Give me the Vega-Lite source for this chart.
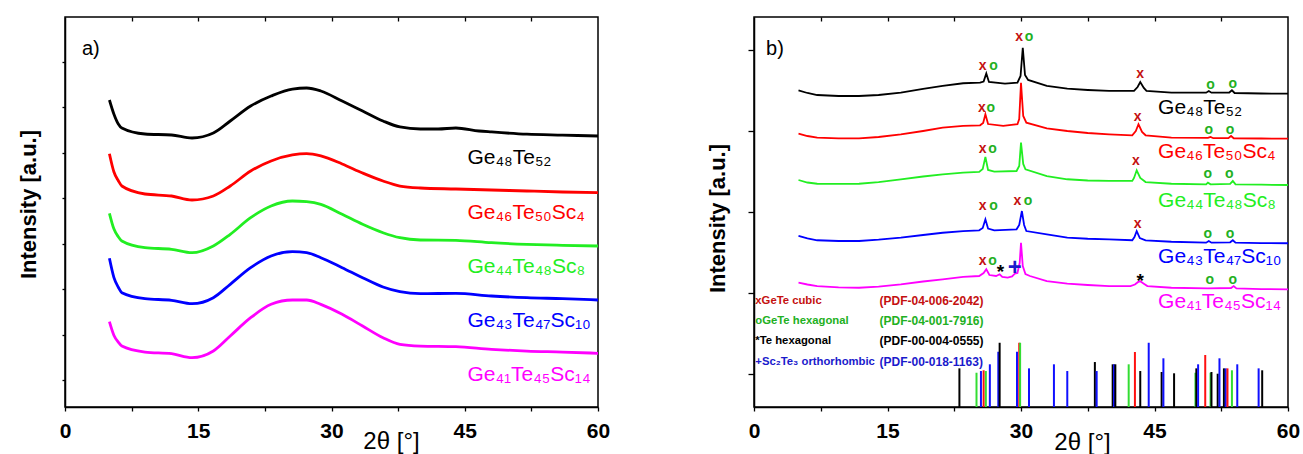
{
"$schema":"https://vega.github.io/schema/vega-lite/v6.json",
"background":"white",
"padding":{"left":16,"top":15,"right":5,"bottom":2},
"spacing":94,
"config":{"font":"Liberation Sans","view":{"stroke":"#000","strokeWidth":1.5},
"axis":{"grid":false,"domainColor":"#000","domainWidth":1.5,"tickColor":"#000","tickWidth":1.3,"labelFont":"Liberation Sans","labelFontSize":21,"labelFontWeight":"bold","labelColor":"#000","titleFont":"Liberation Sans","titleColor":"#000"},
"text":{"font":"Liberation Sans"}},
"datasets":{
"a":[
{"s":"Ge48Te52","t":5,"y":6.163},{"s":"Ge48Te52","t":5.5,"y":5.855},{"s":"Ge48Te52","t":6,"y":5.635},{"s":"Ge48Te52","t":6.4,"y":5.547},{"s":"Ge48Te52","t":9,"y":5.415},{"s":"Ge48Te52","t":12,"y":5.393},{"s":"Ge48Te52","t":14.3,"y":5.327},{"s":"Ge48Te52","t":16.7,"y":5.437},{"s":"Ge48Te52","t":18.6,"y":5.701},{"s":"Ge48Te52","t":20.9,"y":6.031},{"s":"Ge48Te52","t":23.2,"y":6.251},{"s":"Ge48Te52","t":25.6,"y":6.405},{"s":"Ge48Te52","t":27.2,"y":6.427},{"s":"Ge48Te52","t":28.8,"y":6.361},{"s":"Ge48Te52","t":31.2,"y":6.141},{"s":"Ge48Te52","t":33.5,"y":5.921},{"s":"Ge48Te52","t":35.8,"y":5.701},{"s":"Ge48Te52","t":37.7,"y":5.569},{"s":"Ge48Te52","t":40,"y":5.525},{"s":"Ge48Te52","t":42,"y":5.525},{"s":"Ge48Te52","t":44,"y":5.547},{"s":"Ge48Te52","t":46.6,"y":5.481},{"s":"Ge48Te52","t":48,"y":5.46},{"s":"Ge48Te52","t":52,"y":5.41},{"s":"Ge48Te52","t":56,"y":5.39},{"s":"Ge48Te52","t":60,"y":5.371},
{"s":"Ge46Te50Sc4","t":5,"y":4.981},{"s":"Ge46Te50Sc4","t":5.5,"y":4.585},{"s":"Ge46Te50Sc4","t":6,"y":4.387},{"s":"Ge46Te50Sc4","t":6.4,"y":4.27},{"s":"Ge46Te50Sc4","t":9,"y":4.094},{"s":"Ge46Te50Sc4","t":12,"y":4.05},{"s":"Ge46Te50Sc4","t":14.3,"y":3.962},{"s":"Ge46Te50Sc4","t":16.7,"y":4.05},{"s":"Ge46Te50Sc4","t":18.6,"y":4.27},{"s":"Ge46Te50Sc4","t":20.9,"y":4.6},{"s":"Ge46Te50Sc4","t":23.2,"y":4.821},{"s":"Ge46Te50Sc4","t":25.6,"y":4.953},{"s":"Ge46Te50Sc4","t":27.2,"y":4.981},{"s":"Ge46Te50Sc4","t":28.8,"y":4.931},{"s":"Ge46Te50Sc4","t":31.2,"y":4.755},{"s":"Ge46Te50Sc4","t":33.5,"y":4.556},{"s":"Ge46Te50Sc4","t":35.8,"y":4.38},{"s":"Ge46Te50Sc4","t":37.7,"y":4.27},{"s":"Ge46Te50Sc4","t":40,"y":4.226},{"s":"Ge46Te50Sc4","t":44,"y":4.204},{"s":"Ge46Te50Sc4","t":48,"y":4.182},{"s":"Ge46Te50Sc4","t":52,"y":4.16},{"s":"Ge46Te50Sc4","t":56,"y":4.138},{"s":"Ge46Te50Sc4","t":60,"y":4.123},
{"s":"Ge44Te48Sc8","t":5,"y":3.669},{"s":"Ge44Te48Sc8","t":5.5,"y":3.328},{"s":"Ge44Te48Sc8","t":6,"y":3.152},{"s":"Ge44Te48Sc8","t":6.4,"y":3.06},{"s":"Ge44Te48Sc8","t":9,"y":2.912},{"s":"Ge44Te48Sc8","t":12,"y":2.877},{"s":"Ge44Te48Sc8","t":14.3,"y":2.802},{"s":"Ge44Te48Sc8","t":16.7,"y":2.95},{"s":"Ge44Te48Sc8","t":18.6,"y":3.207},{"s":"Ge44Te48Sc8","t":20.9,"y":3.573},{"s":"Ge44Te48Sc8","t":23.2,"y":3.83},{"s":"Ge44Te48Sc8","t":25.6,"y":3.94},{"s":"Ge44Te48Sc8","t":27.2,"y":3.925},{"s":"Ge44Te48Sc8","t":28.8,"y":3.867},{"s":"Ge44Te48Sc8","t":31.2,"y":3.647},{"s":"Ge44Te48Sc8","t":33.5,"y":3.427},{"s":"Ge44Te48Sc8","t":35.8,"y":3.242},{"s":"Ge44Te48Sc8","t":37.7,"y":3.132},{"s":"Ge44Te48Sc8","t":40,"y":3.082},{"s":"Ge44Te48Sc8","t":44,"y":3.075},{"s":"Ge44Te48Sc8","t":48,"y":3.022},{"s":"Ge44Te48Sc8","t":52,"y":2.987},{"s":"Ge44Te48Sc8","t":56,"y":2.965},{"s":"Ge44Te48Sc8","t":60,"y":2.95},
{"s":"Ge43Te47Sc10","t":5,"y":2.679},{"s":"Ge43Te47Sc10","t":5.5,"y":2.261},{"s":"Ge43Te47Sc10","t":6,"y":2.041},{"s":"Ge43Te47Sc10","t":6.4,"y":1.922},{"s":"Ge43Te47Sc10","t":9,"y":1.79},{"s":"Ge43Te47Sc10","t":12,"y":1.754},{"s":"Ge43Te47Sc10","t":14.3,"y":1.68},{"s":"Ge43Te47Sc10","t":16.7,"y":1.812},{"s":"Ge43Te47Sc10","t":18.6,"y":2.107},{"s":"Ge43Te47Sc10","t":20.9,"y":2.472},{"s":"Ge43Te47Sc10","t":23.2,"y":2.729},{"s":"Ge43Te47Sc10","t":25.6,"y":2.824},{"s":"Ge43Te47Sc10","t":27.2,"y":2.802},{"s":"Ge43Te47Sc10","t":28.8,"y":2.692},{"s":"Ge43Te47Sc10","t":31.2,"y":2.472},{"s":"Ge43Te47Sc10","t":33.5,"y":2.252},{"s":"Ge43Te47Sc10","t":35.8,"y":2.047},{"s":"Ge43Te47Sc10","t":37.7,"y":1.944},{"s":"Ge43Te47Sc10","t":40,"y":1.9},{"s":"Ge43Te47Sc10","t":44,"y":1.908},{"s":"Ge43Te47Sc10","t":48,"y":1.849},{"s":"Ge43Te47Sc10","t":52,"y":1.812},{"s":"Ge43Te47Sc10","t":56,"y":1.79},{"s":"Ge43Te47Sc10","t":60,"y":1.761},
{"s":"Ge41Te45Sc14","t":5,"y":1.283},{"s":"Ge41Te45Sc14","t":5.5,"y":0.986},{"s":"Ge41Te45Sc14","t":6,"y":0.832},{"s":"Ge41Te45Sc14","t":6.4,"y":0.748},{"s":"Ge41Te45Sc14","t":9,"y":0.616},{"s":"Ge41Te45Sc14","t":12,"y":0.579},{"s":"Ge41Te45Sc14","t":14.3,"y":0.491},{"s":"Ge41Te45Sc14","t":16.7,"y":0.638},{"s":"Ge41Te45Sc14","t":18.6,"y":0.969},{"s":"Ge41Te45Sc14","t":20.9,"y":1.371},{"s":"Ge41Te45Sc14","t":23.2,"y":1.666},{"s":"Ge41Te45Sc14","t":25.6,"y":1.761},{"s":"Ge41Te45Sc14","t":27.2,"y":1.761},{"s":"Ge41Te45Sc14","t":28.8,"y":1.666},{"s":"Ge41Te45Sc14","t":31.2,"y":1.446},{"s":"Ge41Te45Sc14","t":33.5,"y":1.189},{"s":"Ge41Te45Sc14","t":35.8,"y":0.931},{"s":"Ge41Te45Sc14","t":37.7,"y":0.786},{"s":"Ge41Te45Sc14","t":40,"y":0.748},{"s":"Ge41Te45Sc14","t":44,"y":0.733},{"s":"Ge41Te45Sc14","t":48,"y":0.676},{"s":"Ge41Te45Sc14","t":52,"y":0.638},{"s":"Ge41Te45Sc14","t":56,"y":0.616},{"s":"Ge41Te45Sc14","t":60,"y":0.588}
],
"alab":[
{"s":"Ge48Te52","lab":"Ge₄₈Te₅₂","t":45.3,"y":4.755},
{"s":"Ge46Te50Sc4","lab":"Ge₄₆Te₅₀Sc₄","t":45.3,"y":3.544},
{"s":"Ge44Te48Sc8","lab":"Ge₄₄Te₄₈Sc₈","t":45.3,"y":2.355},
{"s":"Ge43Te47Sc10","lab":"Ge₄₃Te₄₇Sc₁₀","t":45.3,"y":1.167},
{"s":"Ge41Te45Sc14","lab":"Ge₄₁Te₄₅Sc₁₄","t":45.3,"y":-0.022}
],
"b":[
{"s":"Ge48Te52","t":5,"y":3.502},{"s":"Ge48Te52","t":6,"y":3.469},{"s":"Ge48Te52","t":7.1,"y":3.444},{"s":"Ge48Te52","t":9.5,"y":3.432},{"s":"Ge48Te52","t":11.8,"y":3.432},{"s":"Ge48Te52","t":14,"y":3.444},{"s":"Ge48Te52","t":16.5,"y":3.473},{"s":"Ge48Te52","t":19,"y":3.519},{"s":"Ge48Te52","t":21.2,"y":3.556},{"s":"Ge48Te52","t":23.5,"y":3.589},{"s":"Ge48Te52","t":25.4,"y":3.596},{"s":"Ge48Te52","t":25.8,"y":3.611},{"s":"Ge48Te52","t":26.1,"y":3.711},{"s":"Ge48Te52","t":26.4,"y":3.605},{"s":"Ge48Te52","t":28.2,"y":3.584},{"s":"Ge48Te52","t":29.6,"y":3.596},{"s":"Ge48Te52","t":29.95,"y":3.679},{"s":"Ge48Te52","t":30.2,"y":4.028},{"s":"Ge48Te52","t":30.45,"y":3.691},{"s":"Ge48Te52","t":30.8,"y":3.63},{"s":"Ge48Te52","t":32.9,"y":3.556},{"s":"Ge48Te52","t":35.2,"y":3.522},{"s":"Ge48Te52","t":37.5,"y":3.506},{"s":"Ge48Te52","t":39.9,"y":3.494},{"s":"Ge48Te52","t":42.7,"y":3.494},{"s":"Ge48Te52","t":43.1,"y":3.543},{"s":"Ge48Te52","t":43.4,"y":3.605},{"s":"Ge48Te52","t":43.8,"y":3.531},{"s":"Ge48Te52","t":44.1,"y":3.494},{"s":"Ge48Te52","t":46.9,"y":3.473},{"s":"Ge48Te52","t":50.8,"y":3.473},{"s":"Ge48Te52","t":51.1,"y":3.494},{"s":"Ge48Te52","t":51.4,"y":3.473},{"s":"Ge48Te52","t":53.4,"y":3.475},{"s":"Ge48Te52","t":53.7,"y":3.502},{"s":"Ge48Te52","t":54,"y":3.469},{"s":"Ge48Te52","t":57,"y":3.463},{"s":"Ge48Te52","t":60,"y":3.46},
{"s":"Ge46Te50Sc4","t":5,"y":2.967},{"s":"Ge46Te50Sc4","t":6,"y":2.938},{"s":"Ge46Te50Sc4","t":7.1,"y":2.917},{"s":"Ge46Te50Sc4","t":9.5,"y":2.91},{"s":"Ge46Te50Sc4","t":11.8,"y":2.91},{"s":"Ge46Te50Sc4","t":14,"y":2.926},{"s":"Ge46Te50Sc4","t":16.5,"y":2.959},{"s":"Ge46Te50Sc4","t":19,"y":3.0},{"s":"Ge46Te50Sc4","t":21.2,"y":3.041},{"s":"Ge46Te50Sc4","t":23.5,"y":3.062},{"s":"Ge46Te50Sc4","t":25.4,"y":3.07},{"s":"Ge46Te50Sc4","t":25.75,"y":3.099},{"s":"Ge46Te50Sc4","t":26,"y":3.206},{"s":"Ge46Te50Sc4","t":26.3,"y":3.086},{"s":"Ge46Te50Sc4","t":28,"y":3.062},{"s":"Ge46Te50Sc4","t":29.6,"y":3.083},{"s":"Ge46Te50Sc4","t":29.8,"y":3.148},{"s":"Ge46Te50Sc4","t":30,"y":3.596},{"s":"Ge46Te50Sc4","t":30.25,"y":3.185},{"s":"Ge46Te50Sc4","t":30.6,"y":3.102},{"s":"Ge46Te50Sc4","t":32.9,"y":3.033},{"s":"Ge46Te50Sc4","t":35.2,"y":3.0},{"s":"Ge46Te50Sc4","t":37.5,"y":2.975},{"s":"Ge46Te50Sc4","t":39.9,"y":2.959},{"s":"Ge46Te50Sc4","t":42.5,"y":2.947},{"s":"Ge46Te50Sc4","t":42.9,"y":3.0},{"s":"Ge46Te50Sc4","t":43.2,"y":3.083},{"s":"Ge46Te50Sc4","t":43.6,"y":2.988},{"s":"Ge46Te50Sc4","t":44,"y":2.947},{"s":"Ge46Te50Sc4","t":46.9,"y":2.917},{"s":"Ge46Te50Sc4","t":51,"y":2.914},{"s":"Ge46Te50Sc4","t":51.3,"y":2.926},{"s":"Ge46Te50Sc4","t":51.6,"y":2.911},{"s":"Ge46Te50Sc4","t":53.3,"y":2.911},{"s":"Ge46Te50Sc4","t":53.6,"y":2.938},{"s":"Ge46Te50Sc4","t":53.9,"y":2.91},{"s":"Ge46Te50Sc4","t":57,"y":2.907},{"s":"Ge46Te50Sc4","t":60,"y":2.905},
{"s":"Ge44Te48Sc8","t":5,"y":2.395},{"s":"Ge44Te48Sc8","t":6,"y":2.364},{"s":"Ge44Te48Sc8","t":7.1,"y":2.349},{"s":"Ge44Te48Sc8","t":9.5,"y":2.346},{"s":"Ge44Te48Sc8","t":11.8,"y":2.349},{"s":"Ge44Te48Sc8","t":14,"y":2.37},{"s":"Ge44Te48Sc8","t":16.5,"y":2.404},{"s":"Ge44Te48Sc8","t":19,"y":2.438},{"s":"Ge44Te48Sc8","t":21.2,"y":2.465},{"s":"Ge44Te48Sc8","t":23.5,"y":2.485},{"s":"Ge44Te48Sc8","t":25.3,"y":2.494},{"s":"Ge44Te48Sc8","t":25.7,"y":2.531},{"s":"Ge44Te48Sc8","t":26,"y":2.679},{"s":"Ge44Te48Sc8","t":26.3,"y":2.519},{"s":"Ge44Te48Sc8","t":27,"y":2.498},{"s":"Ge44Te48Sc8","t":29.5,"y":2.506},{"s":"Ge44Te48Sc8","t":29.8,"y":2.568},{"s":"Ge44Te48Sc8","t":30,"y":2.856},{"s":"Ge44Te48Sc8","t":30.25,"y":2.593},{"s":"Ge44Te48Sc8","t":30.5,"y":2.527},{"s":"Ge44Te48Sc8","t":32.9,"y":2.444},{"s":"Ge44Te48Sc8","t":35.2,"y":2.404},{"s":"Ge44Te48Sc8","t":37.5,"y":2.389},{"s":"Ge44Te48Sc8","t":39.9,"y":2.383},{"s":"Ge44Te48Sc8","t":42.5,"y":2.383},{"s":"Ge44Te48Sc8","t":42.7,"y":2.42},{"s":"Ge44Te48Sc8","t":43,"y":2.515},{"s":"Ge44Te48Sc8","t":43.4,"y":2.42},{"s":"Ge44Te48Sc8","t":44,"y":2.37},{"s":"Ge44Te48Sc8","t":46.9,"y":2.349},{"s":"Ge44Te48Sc8","t":50.8,"y":2.341},{"s":"Ge44Te48Sc8","t":51,"y":2.362},{"s":"Ge44Te48Sc8","t":51.3,"y":2.341},{"s":"Ge44Te48Sc8","t":53.5,"y":2.346},{"s":"Ge44Te48Sc8","t":53.8,"y":2.383},{"s":"Ge44Te48Sc8","t":54.1,"y":2.341},{"s":"Ge44Te48Sc8","t":57,"y":2.337},{"s":"Ge44Te48Sc8","t":60,"y":2.333},
{"s":"Ge43Te47Sc10","t":5,"y":1.704},{"s":"Ge43Te47Sc10","t":6,"y":1.673},{"s":"Ge43Te47Sc10","t":7.1,"y":1.651},{"s":"Ge43Te47Sc10","t":9.5,"y":1.642},{"s":"Ge43Te47Sc10","t":11.8,"y":1.642},{"s":"Ge43Te47Sc10","t":14,"y":1.658},{"s":"Ge43Te47Sc10","t":16.5,"y":1.683},{"s":"Ge43Te47Sc10","t":19,"y":1.716},{"s":"Ge43Te47Sc10","t":21.2,"y":1.744},{"s":"Ge43Te47Sc10","t":23.5,"y":1.765},{"s":"Ge43Te47Sc10","t":25.3,"y":1.774},{"s":"Ge43Te47Sc10","t":25.7,"y":1.802},{"s":"Ge43Te47Sc10","t":26,"y":1.91},{"s":"Ge43Te47Sc10","t":26.3,"y":1.796},{"s":"Ge43Te47Sc10","t":27,"y":1.774},{"s":"Ge43Te47Sc10","t":29.5,"y":1.786},{"s":"Ge43Te47Sc10","t":29.8,"y":1.84},{"s":"Ge43Te47Sc10","t":30.1,"y":2.012},{"s":"Ge43Te47Sc10","t":30.35,"y":1.84},{"s":"Ge43Te47Sc10","t":30.6,"y":1.765},{"s":"Ge43Te47Sc10","t":32.9,"y":1.725},{"s":"Ge43Te47Sc10","t":35.2,"y":1.683},{"s":"Ge43Te47Sc10","t":37.5,"y":1.67},{"s":"Ge43Te47Sc10","t":39.9,"y":1.663},{"s":"Ge43Te47Sc10","t":42.5,"y":1.651},{"s":"Ge43Te47Sc10","t":42.75,"y":1.691},{"s":"Ge43Te47Sc10","t":43,"y":1.765},{"s":"Ge43Te47Sc10","t":43.35,"y":1.679},{"s":"Ge43Te47Sc10","t":44,"y":1.651},{"s":"Ge43Te47Sc10","t":46.9,"y":1.633},{"s":"Ge43Te47Sc10","t":50.8,"y":1.621},{"s":"Ge43Te47Sc10","t":51.1,"y":1.642},{"s":"Ge43Te47Sc10","t":51.4,"y":1.621},{"s":"Ge43Te47Sc10","t":53.5,"y":1.626},{"s":"Ge43Te47Sc10","t":53.8,"y":1.651},{"s":"Ge43Te47Sc10","t":54.1,"y":1.621},{"s":"Ge43Te47Sc10","t":57,"y":1.617},{"s":"Ge43Te47Sc10","t":60,"y":1.614},
{"s":"Ge41Te45Sc14","t":5,"y":1.127},{"s":"Ge41Te45Sc14","t":6,"y":1.105},{"s":"Ge41Te45Sc14","t":7.1,"y":1.086},{"s":"Ge41Te45Sc14","t":9.5,"y":1.07},{"s":"Ge41Te45Sc14","t":11.8,"y":1.065},{"s":"Ge41Te45Sc14","t":14,"y":1.08},{"s":"Ge41Te45Sc14","t":16.5,"y":1.107},{"s":"Ge41Te45Sc14","t":19,"y":1.142},{"s":"Ge41Te45Sc14","t":21.2,"y":1.169},{"s":"Ge41Te45Sc14","t":23.5,"y":1.198},{"s":"Ge41Te45Sc14","t":25.3,"y":1.21},{"s":"Ge41Te45Sc14","t":25.8,"y":1.247},{"s":"Ge41Te45Sc14","t":26.1,"y":1.293},{"s":"Ge41Te45Sc14","t":26.45,"y":1.222},{"s":"Ge41Te45Sc14","t":27.2,"y":1.21},{"s":"Ge41Te45Sc14","t":27.6,"y":1.231},{"s":"Ge41Te45Sc14","t":27.9,"y":1.198},{"s":"Ge41Te45Sc14","t":28.5,"y":1.191},{"s":"Ge41Te45Sc14","t":29,"y":1.204},{"s":"Ge41Te45Sc14","t":29.3,"y":1.238},{"s":"Ge41Te45Sc14","t":29.6,"y":1.247},{"s":"Ge41Te45Sc14","t":29.85,"y":1.37},{"s":"Ge41Te45Sc14","t":30,"y":1.621},{"s":"Ge41Te45Sc14","t":30.2,"y":1.333},{"s":"Ge41Te45Sc14","t":30.5,"y":1.235},{"s":"Ge41Te45Sc14","t":31,"y":1.21},{"s":"Ge41Te45Sc14","t":32.9,"y":1.148},{"s":"Ge41Te45Sc14","t":35.2,"y":1.115},{"s":"Ge41Te45Sc14","t":37.5,"y":1.099},{"s":"Ge41Te45Sc14","t":39.9,"y":1.086},{"s":"Ge41Te45Sc14","t":42.3,"y":1.086},{"s":"Ge41Te45Sc14","t":42.8,"y":1.105},{"s":"Ge41Te45Sc14","t":43.2,"y":1.14},{"s":"Ge41Te45Sc14","t":43.4,"y":1.145},{"s":"Ge41Te45Sc14","t":43.8,"y":1.115},{"s":"Ge41Te45Sc14","t":44.2,"y":1.086},{"s":"Ge41Te45Sc14","t":46.9,"y":1.065},{"s":"Ge41Te45Sc14","t":51,"y":1.058},{"s":"Ge41Te45Sc14","t":53.6,"y":1.062},{"s":"Ge41Te45Sc14","t":53.9,"y":1.086},{"s":"Ge41Te45Sc14","t":54.2,"y":1.058},{"s":"Ge41Te45Sc14","t":57,"y":1.049},{"s":"Ge41Te45Sc14","t":60,"y":1.046}
],
"blab":[
{"s":"Ge48Te52","lab":"Ge₄₈Te₅₂","t":45.4,"y":3.21},
{"s":"Ge46Te50Sc4","lab":"Ge₄₆Te₅₀Sc₄","t":45.4,"y":2.67},
{"s":"Ge44Te48Sc8","lab":"Ge₄₄Te₄₈Sc₈","t":45.4,"y":2.062},
{"s":"Ge43Te47Sc10","lab":"Ge₄₃Te₄₇Sc₁₀","t":45.4,"y":1.374},
{"s":"Ge41Te45Sc14","lab":"Ge₄₁Te₄₅Sc₁₄","t":45.4,"y":0.819}
],
"mk":[
{"m":"x","p":"cubic","t":25.7,"y":3.8},{"m":"o","p":"hex","t":26.9,"y":3.8},{"m":"x","p":"cubic","t":29.8,"y":4.156},{"m":"o","p":"hex","t":30.9,"y":4.156},{"m":"x","p":"cubic","t":43.4,"y":3.707},{"m":"o","p":"hex","t":51.3,"y":3.564},{"m":"o","p":"hex","t":53.8,"y":3.577},
{"m":"x","p":"cubic","t":25.6,"y":3.288},{"m":"o","p":"hex","t":26.6,"y":3.288},{"m":"x","p":"cubic","t":43.1,"y":3.173},{"m":"o","p":"hex","t":51.1,"y":3.009},{"m":"o","p":"hex","t":53.5,"y":3.009},
{"m":"x","p":"cubic","t":25.7,"y":2.774},{"m":"o","p":"hex","t":26.8,"y":2.774},{"m":"x","p":"cubic","t":42.9,"y":2.63},{"m":"o","p":"hex","t":51.0,"y":2.465},{"m":"o","p":"hex","t":53.4,"y":2.465},
{"m":"x","p":"cubic","t":25.7,"y":2.074},{"m":"o","p":"hex","t":26.9,"y":2.074},{"m":"x","p":"cubic","t":29.6,"y":2.136},{"m":"o","p":"hex","t":30.8,"y":2.136},{"m":"x","p":"cubic","t":43.1,"y":1.848},{"m":"o","p":"hex","t":51.0,"y":1.725},{"m":"o","p":"hex","t":53.5,"y":1.725},
{"m":"x","p":"cubic","t":25.7,"y":1.395},{"m":"o","p":"hex","t":26.8,"y":1.395},{"m":"*","p":"Te","t":27.7,"y":1.321},{"m":"+","p":"Sc","t":29.3,"y":1.312},{"m":"*","p":"Te","t":43.4,"y":1.21},{"m":"o","p":"hex","t":51.2,"y":1.16},{"m":"o","p":"hex","t":53.8,"y":1.16}
],
"st":[
{"p":"Te","t":23.08,"y":0.07},{"p":"hex","t":25.0,"y":0.016},{"p":"Sc","t":25.5,"y":0.037},{"p":"cubic","t":25.8,"y":0.046},{"p":"hex","t":26.05,"y":0.037},{"p":"Sc","t":26.5,"y":0.12},{"p":"Sc","t":27.45,"y":0.275},{"p":"Te","t":27.6,"y":0.386},{"p":"Sc","t":29.55,"y":0.275},{"p":"cubic","t":29.8,"y":0.386},{"p":"hex","t":29.9,"y":0.386},{"p":"Sc","t":30.9,"y":0.07},{"p":"Sc","t":33.7,"y":0.12},{"p":"Sc","t":35.2,"y":0.037},{"p":"Te","t":38.3,"y":0.148},{"p":"Sc","t":38.5,"y":0.037},{"p":"Te","t":40.3,"y":0.12},{"p":"Sc","t":40.45,"y":0.12},{"p":"Te","t":40.6,"y":0.12},{"p":"hex","t":42.1,"y":0.12},{"p":"cubic","t":42.8,"y":0.272},{"p":"Te","t":43.4,"y":0.037},{"p":"Sc","t":44.35,"y":0.386},{"p":"Te","t":45.8,"y":0.025},{"p":"Sc","t":46.0,"y":0.194},{"p":"Te","t":47.2,"y":0.009},{"p":"hex","t":49.6,"y":0.016},{"p":"Te","t":49.7,"y":0.07},{"p":"Sc","t":49.9,"y":0.12},{"p":"cubic","t":50.7,"y":0.235},{"p":"hex","t":51.3,"y":0.016},{"p":"Te","t":51.4,"y":0.025},{"p":"Te","t":52.1,"y":0.004},{"p":"Sc","t":52.3,"y":0.194},{"p":"Te","t":52.8,"y":0.07},{"p":"Sc","t":53.0,"y":0.07},{"p":"cubic","t":53.2,"y":0.07},{"p":"hex","t":53.7,"y":0.046},{"p":"Sc","t":54.3,"y":0.12},{"p":"Sc","t":56.7,"y":0.07},{"p":"Te","t":57.1,"y":0.046}
],
"lg":[
{"p":"cubic","n":"xGeTe cubic","pdf":"(PDF-04-006-2042)","y":0.905},
{"p":"hex","n":"oGeTe hexagonal","pdf":"(PDF-04-001-7916)","y":0.658},
{"p":"Te","n":"*Te hexagonal","pdf":"(PDF-00-004-0555)","y":0.404},
{"p":"Sc","n":"+Sc₂Te₃ orthorhombic","pdf":"(PDF-00-018-1163)","y":0.152}
]
},
"hconcat":[
{
"width":533,"height":390,
"layer":[
{"data":{"name":"a"},"mark":{"type":"line","interpolate":"monotone","strokeWidth":2.8},
"encoding":{
"x":{"field":"t","type":"quantitative","scale":{"domain":[0,60],"nice":false,"zero":false},
"axis":{"orient":"bottom","values":[0,7.5,15,22.5,30,37.5,45,52.5,60],"labelExpr":"datum.value % 15 === 0 ? datum.label : ''","tickSize":4,"labelPadding":9,"labelFlush":false,"labelOverlap":false,"title":"2θ [°]","titleFontSize":24,"titleFontWeight":"normal","titleX":326,"titleY":34,"titleBaseline":"middle","titleAlign":"center"}},
"y":{"field":"y","type":"quantitative","scale":{"domain":[-0.594,7.99],"nice":false,"zero":false},
"axis":{"orient":"left","values":[0,1,2,3,4,5,6,7],"labels":false,"tickSize":3,"title":"Intensity [a.u.]","titleFontSize":22,"titleFontWeight":"bold","titleAngle":-90,"titleX":-37,"titleY":187,"titleBaseline":"middle","titleAlign":"center"}},
"color":{"field":"s","type":"nominal","scale":{"domain":["Ge48Te52","Ge46Te50Sc4","Ge44Te48Sc8","Ge43Te47Sc10","Ge41Te45Sc14"],"range":["#000000","#ff0000","#22ee22","#0000ff","#ff00ff"]},"legend":null}
}},
{"data":{"name":"alab"},"mark":{"type":"text","align":"left","baseline":"alphabetic","fontSize":21},
"encoding":{
"x":{"field":"t","type":"quantitative","scale":{"domain":[0,60],"nice":false,"zero":false},"axis":null},
"y":{"field":"y","type":"quantitative","scale":{"domain":[-0.594,7.99],"nice":false,"zero":false},"axis":null},
"text":{"field":"lab"},"color":{"field":"s","type":"nominal","legend":null}}},
{"data":{"values":[{"t":1.9,"y":7.286,"lab":"a)"}]},"mark":{"type":"text","align":"left","baseline":"middle","fontSize":20,"color":"#000"},
"encoding":{"text":{"field":"lab"},
"y":{"field":"y","type":"quantitative","scale":{"domain":[-0.594,7.99],"nice":false,"zero":false},"axis":null},
"x":{"field":"t","type":"quantitative","scale":{"domain":[0,60],"nice":false,"zero":false},
"axis":{"orient":"top","values":[7.5,15,22.5,30,37.5,45,52.5],"labels":false,"tickSize":-4,"domain":false,"title":null}}}}
],
"resolve":{"axis":{"x":"independent","y":"independent"}}
},
{
"width":534,"height":390,
"layer":[
{"data":{"name":"b"},"mark":{"type":"line","strokeWidth":1.8},
"encoding":{
"x":{"field":"t","type":"quantitative","scale":{"domain":[0,60],"nice":false,"zero":false},
"axis":{"orient":"bottom","values":[0,7.5,15,22.5,30,37.5,45,52.5,60],"labelExpr":"datum.value % 15 === 0 ? datum.label : ''","tickSize":4,"labelPadding":9,"labelFlush":false,"labelOverlap":false,"title":"2θ [°]","titleFontSize":24,"titleFontWeight":"normal","titleX":328,"titleY":35,"titleBaseline":"middle","titleAlign":"center"}},
"y":{"field":"y","type":"quantitative","scale":{"domain":[-0.407,4.407],"nice":false,"zero":false},
"axis":{"orient":"left","values":[0,1,2,3,4],"labels":false,"tickSize":6,"title":"Intensity [a.u.]","titleFontSize":22,"titleFontWeight":"bold","titleAngle":-90,"titleX":-37,"titleY":201,"titleBaseline":"middle","titleAlign":"center"}},
"color":{"field":"s","type":"nominal","scale":{"domain":["Ge48Te52","Ge46Te50Sc4","Ge44Te48Sc8","Ge43Te47Sc10","Ge41Te45Sc14"],"range":["#000000","#ff0000","#22ee22","#0000ff","#ff00ff"]},"legend":null}
}},
{"data":{"name":"st"},"mark":{"type":"rule","strokeWidth":2},
"encoding":{
"x":{"field":"t","type":"quantitative","scale":{"domain":[0,60],"nice":false,"zero":false},"axis":null},
"y":{"field":"y","type":"quantitative","scale":{"domain":[-0.407,4.407],"nice":false,"zero":false},"axis":null},
"y2":{"datum":-0.407},
"color":{"field":"p","type":"nominal","scale":{"domain":["cubic","hex","Te","Sc"],"range":["#ff1010","#33dd33","#000000","#1010ff"]},"legend":null}}},
{"data":{"name":"blab"},"mark":{"type":"text","align":"left","baseline":"alphabetic","fontSize":21},
"encoding":{
"x":{"field":"t","type":"quantitative","scale":{"domain":[0,60],"nice":false,"zero":false},"axis":null},
"y":{"field":"y","type":"quantitative","scale":{"domain":[-0.407,4.407],"nice":false,"zero":false},"axis":null},
"text":{"field":"lab"},"color":{"field":"s","type":"nominal","scale":{"domain":["Ge48Te52","Ge46Te50Sc4","Ge44Te48Sc8","Ge43Te47Sc10","Ge41Te45Sc14"],"range":["#000000","#ff0000","#22ee22","#0000ff","#ff00ff"]},"legend":null}}},
{"data":{"name":"mk"},"transform":[{"filter":"datum.m === 'x' || datum.m === 'o'"}],"mark":{"type":"text","align":"center","baseline":"middle","fontSize":14,"fontWeight":"bold"},
"encoding":{
"x":{"field":"t","type":"quantitative","scale":{"domain":[0,60],"nice":false,"zero":false},"axis":null},
"y":{"field":"y","type":"quantitative","scale":{"domain":[-0.407,4.407],"nice":false,"zero":false},"axis":null},
"text":{"field":"m"},"color":{"field":"p","type":"nominal","scale":{"domain":["cubic","hex","Te","Sc"],"range":["#c41010","#22b022","#000000","#1a1acc"]},"legend":null}}},
{"data":{"name":"mk"},"transform":[{"filter":"datum.m === '*'"}],"mark":{"type":"text","align":"center","baseline":"middle","fontSize":19,"fontWeight":"bold","dy":5,"color":"#000"},
"encoding":{
"x":{"field":"t","type":"quantitative","scale":{"domain":[0,60],"nice":false,"zero":false},"axis":null},
"y":{"field":"y","type":"quantitative","scale":{"domain":[-0.407,4.407],"nice":false,"zero":false},"axis":null},
"text":{"field":"m"}}},
{"data":{"name":"mk"},"transform":[{"filter":"datum.m === '+'"}],"mark":{"type":"text","align":"center","baseline":"middle","fontSize":24,"fontWeight":"bold","color":"#1a1acc"},
"encoding":{
"x":{"field":"t","type":"quantitative","scale":{"domain":[0,60],"nice":false,"zero":false},"axis":null},
"y":{"field":"y","type":"quantitative","scale":{"domain":[-0.407,4.407],"nice":false,"zero":false},"axis":null},
"text":{"field":"m"}}},
{"data":{"name":"lg"},"mark":{"type":"text","align":"left","baseline":"middle","fontSize":11.3,"fontWeight":"bold"},
"encoding":{
"x":{"datum":0.15,"type":"quantitative","scale":{"domain":[0,60],"nice":false,"zero":false},"axis":null},
"y":{"field":"y","type":"quantitative","scale":{"domain":[-0.407,4.407],"nice":false,"zero":false},"axis":null},
"text":{"field":"n"},"color":{"field":"p","type":"nominal","scale":{"domain":["cubic","hex","Te","Sc"],"range":["#c41010","#22b022","#000000","#1a1acc"]},"legend":null}}},
{"data":{"name":"lg"},"mark":{"type":"text","align":"left","baseline":"middle","fontSize":12,"fontWeight":"bold"},
"encoding":{
"x":{"datum":14.1,"type":"quantitative","scale":{"domain":[0,60],"nice":false,"zero":false},"axis":null},
"y":{"field":"y","type":"quantitative","scale":{"domain":[-0.407,4.407],"nice":false,"zero":false},"axis":null},
"text":{"field":"pdf"},"color":{"field":"p","type":"nominal","scale":{"domain":["cubic","hex","Te","Sc"],"range":["#c41010","#22b022","#000000","#1a1acc"]},"legend":null}}},
{"data":{"values":[{"t":1.35,"y":4.012,"lab":"b)"}]},"mark":{"type":"text","align":"left","baseline":"middle","fontSize":20,"color":"#000"},
"encoding":{"text":{"field":"lab"},
"y":{"field":"y","type":"quantitative","scale":{"domain":[-0.407,4.407],"nice":false,"zero":false},"axis":null},
"x":{"field":"t","type":"quantitative","scale":{"domain":[0,60],"nice":false,"zero":false},
"axis":{"orient":"top","values":[7.5,15,22.5,30,37.5,45,52.5],"labels":false,"tickSize":-4,"domain":false,"title":null}}}}
],
"resolve":{"axis":{"x":"independent","y":"independent"},"scale":{"color":"independent"}}
}
]
}
